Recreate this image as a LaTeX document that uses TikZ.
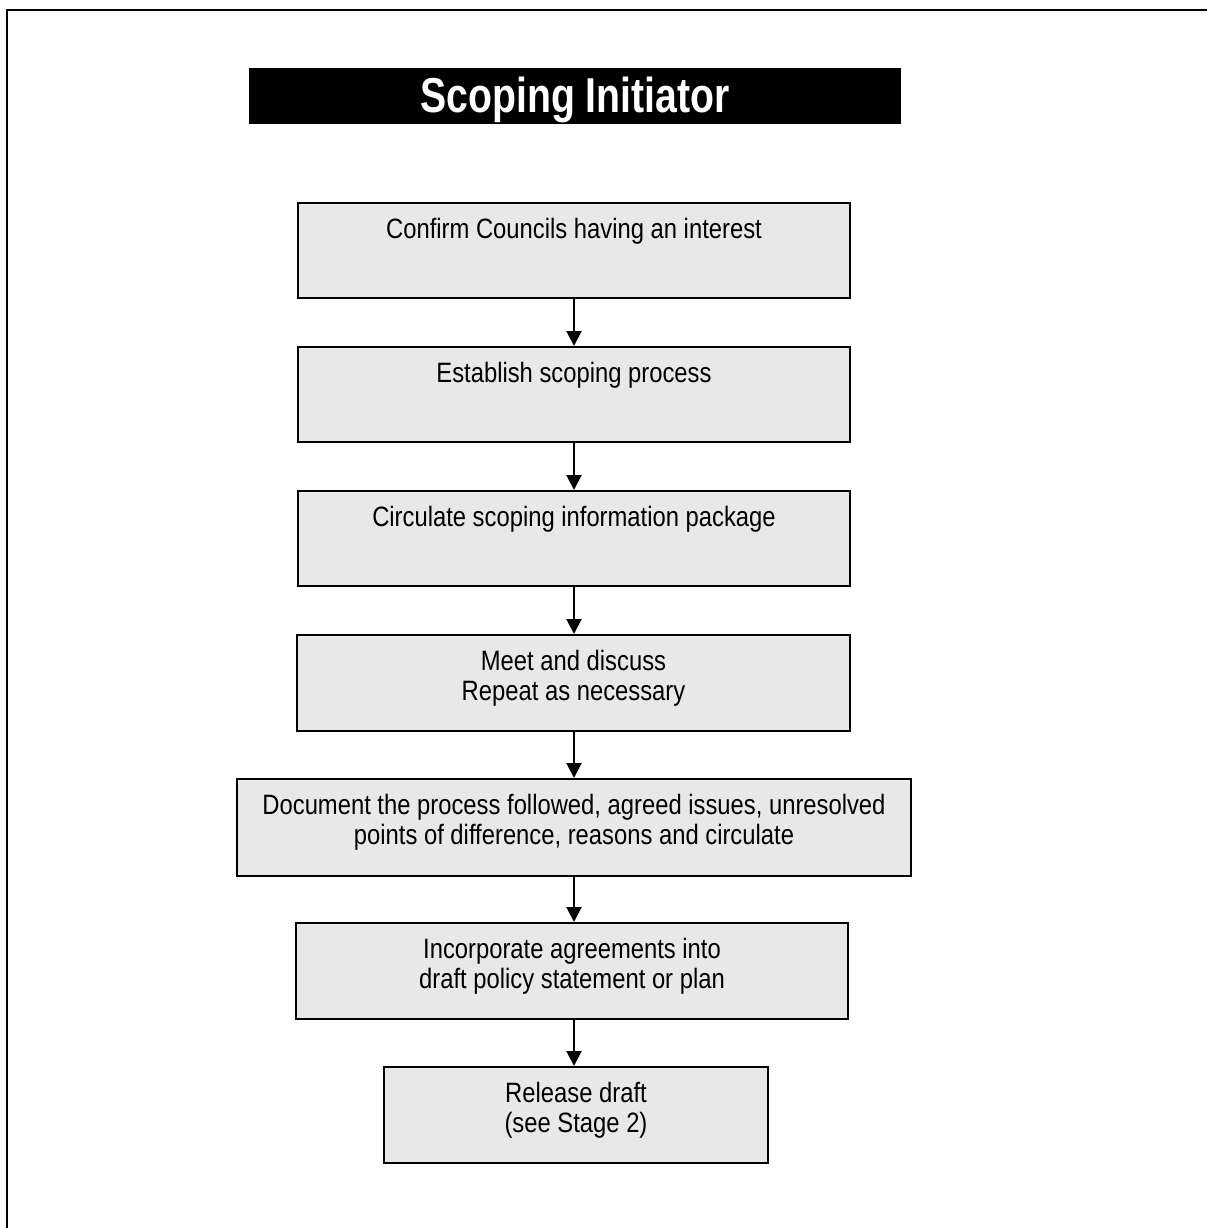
\documentclass[tikz,border=0pt]{standalone}
\usepackage{fontspec}
\setmainfont{Liberation Sans}[FakeStretch=0.85]
\newfontfamily\titlefont{Liberation Sans}[FakeStretch=0.80]
\usetikzlibrary{arrows.meta}
\definecolor{boxgray}{HTML}{E8E8E8}
\newcommand\firststrut{\rule{0pt}{21pt}}
\tikzset{
  stepbox/.style={draw=black, line width=2pt, fill=boxgray, inner sep=0pt},
  steptext/.style={anchor=north, inner sep=0pt, align=center, font={\fontsize{28}{30}\selectfont}},
  flow/.style={line width=2pt, -{Triangle[length=15pt,width=15pt]}},
}
\begin{document}
\begin{tikzpicture}[x=1pt,y=-1pt]
\useasboundingbox (0,0) rectangle (1207,1228);
\coordinate (fa) at (7,1228);
\coordinate (fb) at (1207,10);
\draw[line width=2.5pt] (fa) |- (fb);
\node[fill=black, minimum width=652pt, minimum height=56pt, inner sep=0pt] (title) at (575,96) {};
\node[anchor=base, inner sep=0pt, text=white, font={\titlefont\bfseries\fontsize{49}{52}\selectfont}] (titletext) at (575,113) {Scoping Initiator};
\node[stepbox, minimum width=552pt, minimum height=95pt] (b1) at (574,250.5) {};
\node[stepbox, minimum width=552pt, minimum height=95pt] (b2) at (574,394.5) {};
\node[stepbox, minimum width=552pt, minimum height=95pt] (b3) at (574,538.5) {};
\node[stepbox, minimum width=553pt, minimum height=96pt] (b4) at (573.5,683) {};
\node[stepbox, minimum width=674pt, minimum height=97pt] (b5) at (574,827.5) {};
\node[stepbox, minimum width=552pt, minimum height=96pt] (b6) at (572,971) {};
\node[stepbox, minimum width=384pt, minimum height=96pt] (b7) at (576,1115) {};
\node[steptext] (t1) at ([yshift=-15pt]b1.north) {\firststrut Confirm Councils having an interest};
\node[steptext] (t2) at ([yshift=-15pt]b2.north) {\firststrut Establish scoping process};
\node[steptext] (t3) at ([yshift=-15pt]b3.north) {\firststrut Circulate scoping information package};
\node[steptext] (t4) at ([yshift=-15pt]b4.north) {\firststrut Meet and discuss\\Repeat as necessary};
\node[steptext] (t5) at ([yshift=-15pt]b5.north) {\firststrut Document the process followed, agreed issues, unresolved\\points of difference, reasons and circulate};
\node[steptext] (t6) at ([yshift=-15pt]b6.north) {\firststrut Incorporate agreements into\\draft policy statement or plan};
\node[steptext] (t7) at ([yshift=-15pt]b7.north) {\firststrut Release draft\\(see Stage 2)};
\coordinate (ax) at (574,0);
\draw[flow] (b1.south -| ax) -- (b2.north -| ax);
\draw[flow] (b2.south -| ax) -- (b3.north -| ax);
\draw[flow] (b3.south -| ax) -- (b4.north -| ax);
\draw[flow] (b4.south -| ax) -- (b5.north -| ax);
\draw[flow] (b5.south -| ax) -- (b6.north -| ax);
\draw[flow] (b6.south -| ax) -- (b7.north -| ax);
\end{tikzpicture}
\end{document}
